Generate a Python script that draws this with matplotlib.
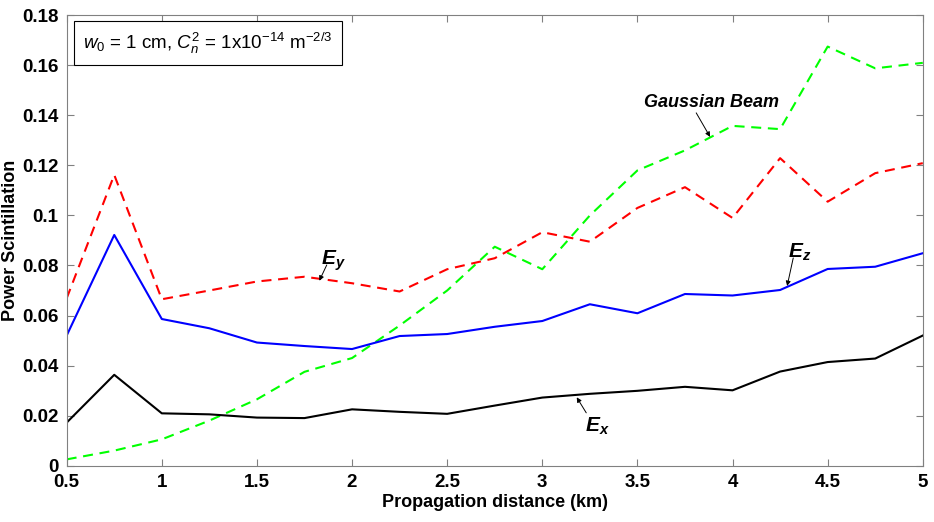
import matplotlib
matplotlib.use('Agg')
import matplotlib.pyplot as plt
from matplotlib.ticker import FormatStrFormatter
import numpy as np

plt.rcParams['font.family'] = ['Liberation Sans', 'DejaVu Sans']
plt.rcParams['mathtext.fontset'] = 'custom'
plt.rcParams['mathtext.rm'] = 'Liberation Sans'
plt.rcParams['mathtext.it'] = 'Liberation Sans:italic'
plt.rcParams['mathtext.bf'] = 'Liberation Sans:bold'
plt.rcParams['mathtext.bfit'] = 'Liberation Sans:italic:bold'

# distancia de propagacao (km)
dist = [0.5, 0.75, 1.0, 1.25, 1.5, 1.75, 2.0, 2.25, 2.5, 2.75,
        3.0, 3.25, 3.5, 3.75, 4.0, 4.25, 4.5, 4.75, 5.0]

# cintilacao de potencia
gauss = [0.0025, 0.006, 0.0105, 0.018, 0.0265, 0.0375, 0.043, 0.056, 0.070, 0.0875,
         0.0785, 0.100, 0.118, 0.126, 0.1358, 0.1345, 0.1675, 0.1588, 0.161]
e_y = [0.0669, 0.1162, 0.0665, 0.0700, 0.0736, 0.0755, 0.0729, 0.0696, 0.0785, 0.0829,
       0.0933, 0.0895, 0.1030, 0.1113, 0.0990, 0.1229, 0.1055, 0.1169, 0.1209]
e_z = [0.0520, 0.0922, 0.0586, 0.0549, 0.0492, 0.0478, 0.0466, 0.0518, 0.0526, 0.0555,
       0.0578, 0.0645, 0.0609, 0.0686, 0.0680, 0.0702, 0.0786, 0.0795, 0.0849]
e_x = [0.0172, 0.0363, 0.0209, 0.0205, 0.0192, 0.0190, 0.0225, 0.0215, 0.0207, 0.0240,
       0.0272, 0.0287, 0.0299, 0.0315, 0.0301, 0.0376, 0.0414, 0.0428, 0.0520]

fig = plt.figure(figsize=(9.34, 5.22), dpi=100)
ax = fig.add_axes([0.0714, 0.108, 0.9166, 0.8627])

dash = (4.8, 3.2)
ax.plot(dist, gauss, color='#00FF00', lw=1.5, dashes=dash)
ax.plot(dist, e_y, color='#FF0000', lw=1.5, dashes=dash)
ax.plot(dist, e_z, color='#0000FF', lw=1.5)
ax.plot(dist, e_x, color='black', lw=1.5)

ax.set_xlim(0.5, 5)
ax.set_ylim(0, 0.18)
ax.set_xticks(np.arange(0.5, 5.01, 0.5))
ax.set_yticks(np.arange(0, 0.181, 0.02))
ax.xaxis.set_major_formatter(FormatStrFormatter('%g'))
ax.yaxis.set_major_formatter(FormatStrFormatter('%g'))
ax.tick_params(direction='in', length=5, width=0.8, color='#808080',
               top=True, right=True, labelsize=13.5, pad=6)
for lab in ax.get_xticklabels() + ax.get_yticklabels():
    lab.set_fontweight('bold')
for sp in ax.spines.values():
    sp.set_color('#808080')
    sp.set_linewidth(0.8)

ax.set_xlabel('Propagation distance (km)', fontsize=13, fontweight='bold', labelpad=2)
ax.set_ylabel('Power Scintillation', fontsize=13, fontweight='bold', labelpad=2)

# setas e rotulos
arr = dict(arrowstyle='-|>', lw=0.7, color='black', mutation_scale=7, shrinkA=0, shrinkB=0)
ax.annotate('', xy=(3.882, 0.1314), xytext=(3.809, 0.1410), arrowprops=arr)
ax.text(3.887, 0.1450, 'Gaussian Beam', fontsize=13, fontweight='bold',
        fontstyle='italic', ha='center', va='center')

ax.annotate('', xy=(1.828, 0.0739), xytext=(1.867, 0.0802), arrowprops=arr)
ax.text(1.90, 0.0820, r'$\mathbfit{E_y}$', fontsize=15, ha='center', va='center')

ax.annotate('', xy=(4.287, 0.0718), xytext=(4.319, 0.0830), arrowprops=arr)
ax.text(4.355, 0.0854, r'$\mathbfit{E_z}$', fontsize=15, ha='center', va='center')

ax.annotate('', xy=(3.181, 0.0273), xytext=(3.231, 0.0211), arrowprops=arr)
ax.text(3.288, 0.0158, r'$\mathbfit{E_x}$', fontsize=15, ha='center', va='center')

ax.text(0.019, 0.9385, r'$w_0$ = 1 cm, $C_n^2$ = 1x10$^{-14}$ m$^{-2/3}$',
        transform=ax.transAxes, fontsize=13.5, ha='left', va='center',
        bbox=dict(boxstyle='square,pad=0.5', fc='white', ec='black', lw=0.8))

fig.savefig('out.png', dpi=100)
